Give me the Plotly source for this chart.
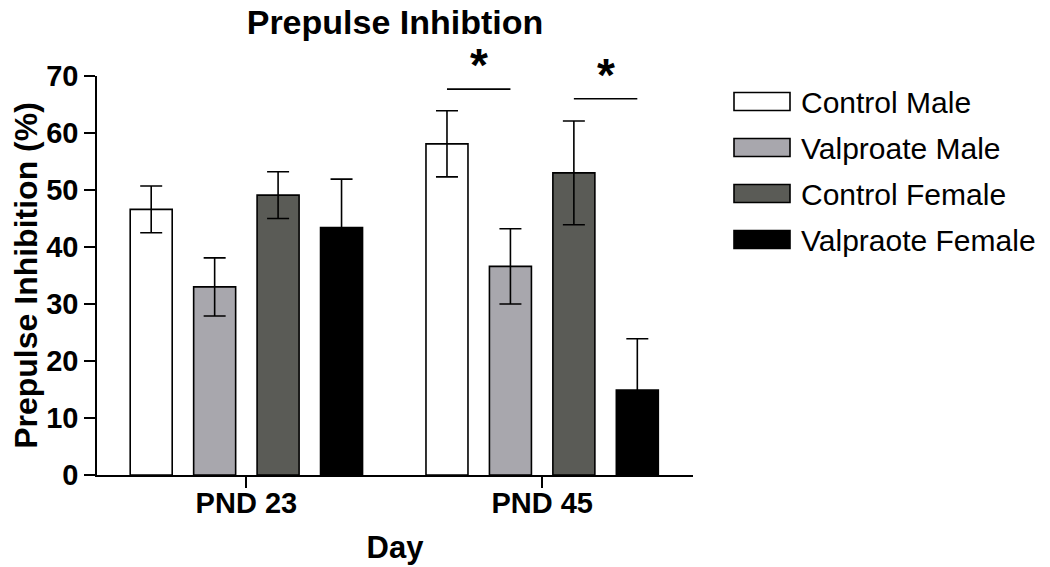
import plotly.graph_objects as go

days = ["PND 23", "PND 45"]
groups = ["Control Male", "Valproate Male", "Control Female", "Valpraote Female"]
control_male = [46.6, 58.1]
control_male_err = [4.1, 5.8]
valproate_male = [33.0, 36.6]
valproate_male_err = [5.1, 6.6]
control_female = [49.1, 53.0]
control_female_err = [4.1, 9.1]
valproate_female = [43.4, 14.9]
valproate_female_err = [8.5, 9.0]
colors = ["#ffffff", "#a8a7ad", "#5a5b56", "#000000"]

values = [control_male, valproate_male, control_female, valproate_female]
errors = [control_male_err, valproate_male_err, control_female_err, valproate_female_err]

# significance: (day index, bar i, bar j, line y)
sig_day = [1, 1]
sig_bar_a = [0, 2]
sig_bar_b = [1, 3]
sig_y = [67.7, 66.0]

FONT = "Liberation Sans, Arial, sans-serif"
# page body has an 8px margin, so the figure is drawn 8px smaller
OFF = 8
W, H = 1050 - OFF, 567 - OFF
L, T = 97 - OFF, 76 - OFF
PW, PH = 596, 399
R, B = W - L - PW, H - T - PH
bargap = 0.142
bargroupgap = 0.338


def px_x(px):
    # px: screen pixel x
    return (px - OFF - L) / PW


def px_y(py):
    return (T + PH - (py - OFF)) / PH


fig = go.Figure()
for name, vals, errs, col in zip(groups, values, errors, colors):
    fig.add_trace(go.Bar(
        x=days, y=vals, name=name, showlegend=False,
        marker=dict(color=col, line=dict(color="black", width=1.6)),
        error_y=dict(type="data", array=errs, visible=True, color="black",
                     thickness=1.6, width=11),
    ))

n = len(groups)
slot = (1 - bargap) / n


def bar_center(day, i):
    return day - (1 - bargap) / 2 + slot * (i + 0.5)


shapes = []
annotations = []
for d, a, b, y in zip(sig_day, sig_bar_a, sig_bar_b, sig_y):
    x0 = bar_center(d, a)
    x1 = bar_center(d, b)
    shapes.append(dict(type="line", xref="x", yref="y", x0=x0, x1=x1, y0=y, y1=y,
                       line=dict(color="black", width=1.6)))
    annotations.append(dict(xref="x", yref="y", x=(x0 + x1) / 2, y=y, yshift=24,
                            text="<b>*</b>", showarrow=False, yanchor="middle",
                            font=dict(family=FONT, size=46, color="black")))

# custom legend with wide swatches (screen pixel positions)
leg_x0, leg_x1 = 734, 790
leg_y0, leg_step, leg_h = 101.5, 46, 18
for k, (name, col) in enumerate(zip(groups, colors)):
    cy = leg_y0 + k * leg_step
    shapes.append(dict(type="rect", xref="paper", yref="paper",
                       x0=px_x(leg_x0), x1=px_x(leg_x1),
                       y0=px_y(cy + leg_h / 2), y1=px_y(cy - leg_h / 2),
                       fillcolor=col, line=dict(color="black", width=1.6)))
    annotations.append(dict(xref="paper", yref="paper", x=px_x(799), y=px_y(cy + 1),
                            text=name, showarrow=False, xanchor="left", yanchor="middle",
                            font=dict(family=FONT, size=30, color="black")))

fig.update_layout(
    width=W, height=H,
    margin=dict(l=L, r=R, t=T, b=B),
    paper_bgcolor="white", plot_bgcolor="white",
    barmode="group", bargap=bargap, bargroupgap=bargroupgap,
    showlegend=False,
    title=dict(text="<b>Prepulse Inhibtion</b>", x=(L + PW / 2) / W, xanchor="center",
               xref="container", y=1 - 2 / H, yref="container", yanchor="top",
               font=dict(family=FONT, size=34, color="black")),
    font=dict(family=FONT, color="black"),
    xaxis=dict(
        range=[-0.505, 1.51], showline=True, linecolor="black", linewidth=1.6,
        ticks="outside", ticklen=11, tickwidth=1.6, tickcolor="black",
        tickfont=dict(family=FONT, size=29, color="black"),
        tickprefix="<b>", ticksuffix="</b>", ticklabelstandoff=-10,
        title=dict(text="<b>Day</b>", font=dict(family=FONT, size=31, color="black"), standoff=19),
        showgrid=False, zeroline=False, automargin=False,
    ),
    yaxis=dict(
        range=[0, 70], dtick=10, showline=True, linecolor="black", linewidth=1.6,
        ticks="outside", ticklen=11, tickwidth=1.6, tickcolor="black",
        tickfont=dict(family=FONT, size=29, color="black"),
        tickprefix="<b>", ticksuffix="</b>",
        title=dict(text="<b>Prepulse Inhibition (%)</b>", font=dict(family=FONT, size=32, color="black"), standoff=15),
        showgrid=False, zeroline=False, automargin=False,
    ),
    shapes=shapes, annotations=annotations,
)

fig.write_html("out.html")
